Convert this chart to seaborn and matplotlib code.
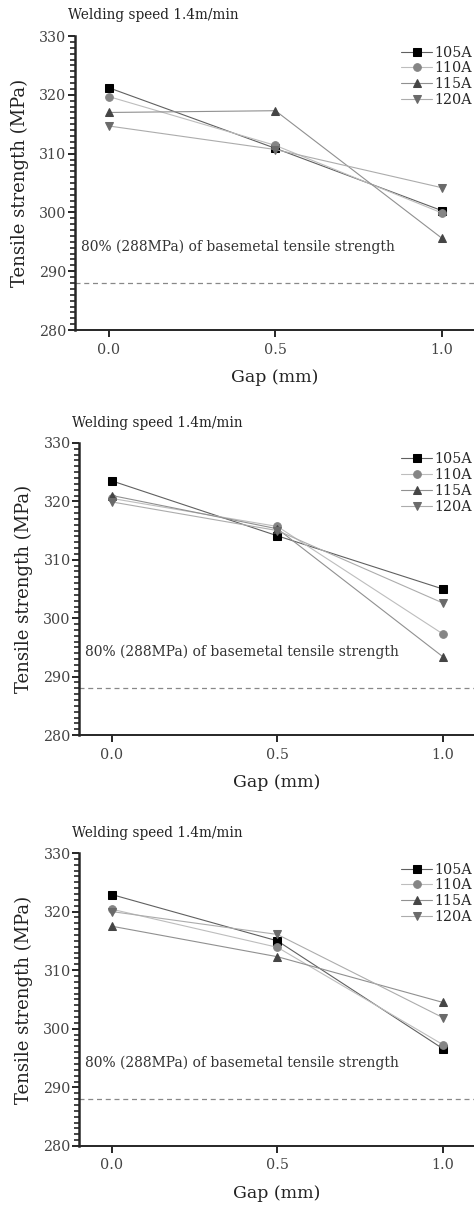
import numpy as np
import pandas as pd
import seaborn as sns
import matplotlib.pyplot as plt
from matplotlib.ticker import MultipleLocator

gap = [0.0, 0.5, 1.0]
currents = ['105A', '110A', '115A', '120A']

# tensile strength (MPa), one list per current, for each of the three panels
p1_105 = [321.2, 310.9, 300.3]
p1_110 = [319.7, 311.4, 299.9]
p1_115 = [317.0, 317.3, 295.6]
p1_120 = [314.7, 310.7, 304.2]

p2_105 = [323.5, 314.1, 305.0]
p2_110 = [320.5, 315.7, 297.3]
p2_115 = [321.0, 315.3, 293.4]
p2_120 = [319.9, 315.0, 302.6]

p3_105 = [322.9, 315.0, 296.6]
p3_110 = [320.4, 313.9, 297.3]
p3_115 = [317.5, 312.3, 304.5]
p3_120 = [320.0, 316.1, 301.9]

base_line = 288
title_txt = 'Welding speed 1.4m/min'
note_txt = '80% (288MPa) of basemetal tensile strength'

panels = [
    [p1_105, p1_110, p1_115, p1_120],
    [p2_105, p2_110, p2_115, p2_120],
    [p3_105, p3_110, p3_115, p3_120],
]

markers = ['s', 'o', '^', 'v']
line_cols = ['#606060', '#bdbdbd', '#909090', '#acacac']
mark_cols = ['#000000', '#858585', '#454545', '#6a6a6a']

sns.set_style('ticks')
plt.rcParams['font.family'] = ['DejaVu Serif']

fig = plt.figure(figsize=(4.74, 12.05), dpi=100)

# axes boxes (left, bottom, width, height) and x-limits
boxes = [
    (0.158, 0.7261, 0.842, 0.2440),
    (0.1667, 0.3900, 0.8333, 0.2424),
    (0.1667, 0.0490, 0.8333, 0.2431),
]
xlims = [(-0.102, 1.096), (-0.0997, 1.094), (-0.0997, 1.094)]

for box, xl, series in zip(boxes, xlims, panels):
    ax = fig.add_axes(box)
    rows = []
    for cur, vals in zip(currents, series):
        for g, v in zip(gap, vals):
            rows.append({'gap': g, 'ts': v, 'current': cur})
    df = pd.DataFrame(rows)

    for i, cur in enumerate(currents):
        sns.lineplot(data=df[df['current'] == cur], x='gap', y='ts', ax=ax,
                     color=line_cols[i], lw=0.8, marker=markers[i],
                     markersize=5.5, markerfacecolor=mark_cols[i],
                     markeredgecolor=mark_cols[i], label=cur)

    ax.axhline(base_line, color='#888888', lw=0.9, ls=(0, (4, 3)))
    ax.text(xl[0] + 0.017, 294.2, note_txt, fontsize=10.0, color='#333333',
            va='center', ha='left')
    ax.text(-0.018, 1.07, title_txt, transform=ax.transAxes, fontsize=9.8,
            color='#222222', ha='left', va='center')

    ax.set_xlim(*xl)
    ax.set_ylim(280, 330)
    ax.set_xticks([0.0, 0.5, 1.0])
    ax.set_xticklabels(['0.0', '0.5', '1.0'])
    ax.set_yticks([280, 290, 300, 310, 320, 330])
    ax.yaxis.set_minor_locator(MultipleLocator(1))
    ax.tick_params(axis='y', which='major', length=5, width=1.4,
                   labelsize=10.3, labelcolor='#444444', pad=1)
    ax.tick_params(axis='y', which='minor', length=3.5, width=1.2)
    ax.tick_params(axis='x', which='major', length=5, width=1.4,
                   labelsize=10.3, labelcolor='#444444', pad=4)
    ax.set_xlabel('Gap (mm)', fontsize=12.5, color='#222222', labelpad=9)
    ax.set_ylabel('Tensile strength (MPa)', fontsize=13, color='#222222',
                  labelpad=7)
    sns.despine(ax=ax)
    ax.spines['left'].set_linewidth(1.8)
    ax.spines['bottom'].set_linewidth(1.4)

    ax.legend(loc='upper right', bbox_to_anchor=(1.01, 0.987), frameon=False,
              fontsize=10.3, handlelength=2.2, handletextpad=0.15,
              labelspacing=0.12, borderaxespad=0)

fig.savefig('out.png', dpi=100)
